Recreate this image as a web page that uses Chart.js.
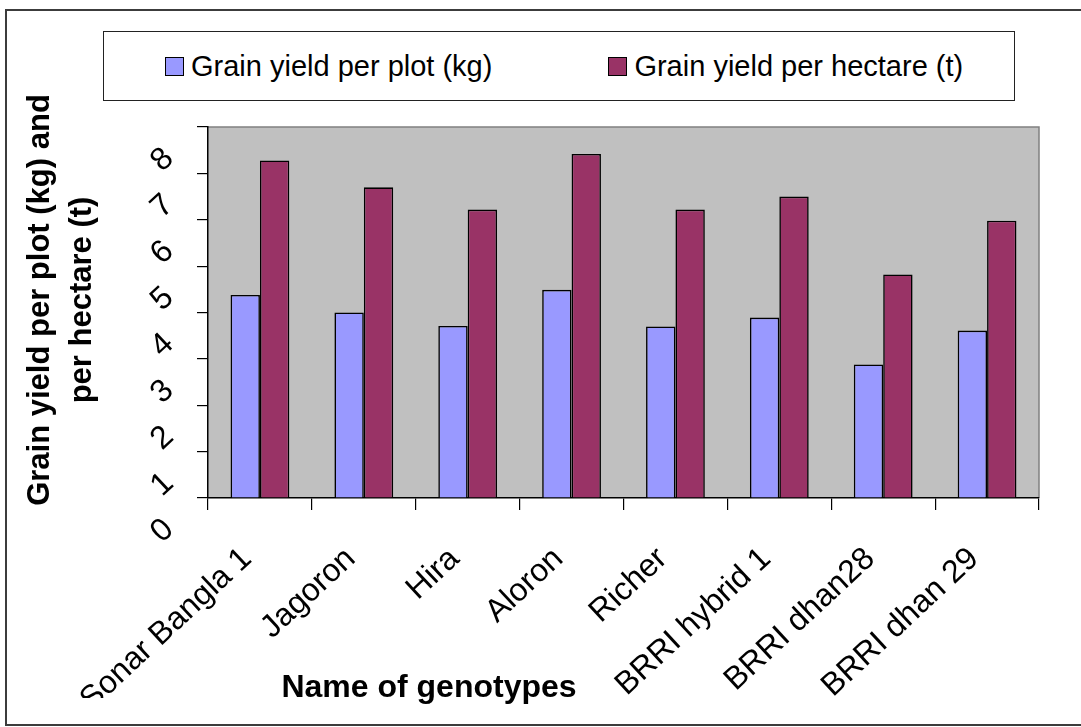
<!DOCTYPE html>
<html>
<head>
<meta charset="utf-8">
<title>Grain yield of genotypes</title>
<script src="https://cdn.jsdelivr.net/npm/chart.js@4.4.1/dist/chart.umd.min.js"></script>
<style>
  html, body { margin: 0; padding: 0; background: #fff; overflow: hidden; width: 1081px; height: 727px; }
  #frame { position: absolute; left: 5px; top: 9px; width: 1076px; height: 717px; border: 2px solid #3c3c3c; border-right: 0; box-sizing: border-box; }
  #chart { position: absolute; left: 0; top: 0; }
  #legend {
    position: absolute; left: 103px; top: 31px; width: 912px; height: 70px;
    box-sizing: border-box; border: 1px solid #222; background: #fff;
    display: flex; align-items: center; padding-left: 61px; gap: 116px;
    font-family: 'Liberation Sans', Arial, sans-serif; font-size: 29px; color: #000;
  }
  .item { display: flex; align-items: center; white-space: nowrap; line-height: 1; }
  .swatch { width: 19px; height: 19px; box-sizing: border-box; border: 1.5px solid #000; margin-right: 7px; }
</style>
</head>
<body>
<div id="frame"></div>
<canvas id="chart" width="1081" height="727"></canvas>
<div id="legend"></div>
<script>
// data
const genotypes = ['Sonar Bangla 1', 'Jagoron', 'Hira', 'Aloron', 'Richer', 'BRRI hybrid 1', 'BRRI dhan28', 'BRRI dhan 29'];
const yieldPerPlot = [4.38, 4.00, 3.71, 4.49, 3.70, 3.89, 2.88, 3.61];
const yieldPerHectare = [7.28, 6.70, 6.22, 7.42, 6.22, 6.50, 4.82, 5.98];
const seriesNames = ['Grain yield per plot (kg)', 'Grain yield per hectare (t)'];
const yTickLabels = ['0', '1', '2', '3', '4', '5', '6', '7', '8'];
const yTitle = ['Grain yield per plot (kg) and', 'per hectare (t)'];
const xTitle = 'Name of genotypes';

const FONT = "'Liberation Sans', Arial, sans-serif";
Chart.defaults.font.family = FONT;
Chart.defaults.color = '#000';

// grey plot area with its thin top/right frame
const plotBackground = {
  id: 'plotBackground',
  beforeDraw(chart) {
    const { ctx, chartArea: a } = chart;
    ctx.save();
    ctx.fillStyle = '#C0C0C0';
    ctx.fillRect(a.left, a.top, a.right - a.left, a.bottom - a.top);
    ctx.strokeStyle = '#808080';
    ctx.lineWidth = 1.5;
    ctx.beginPath();
    ctx.moveTo(a.left, a.top);
    ctx.lineTo(a.right, a.top);
    ctx.lineTo(a.right, a.bottom);
    ctx.stroke();
    ctx.restore();
  }
};

// axis titles sit off-centre in the original, so place them by hand
const axisTitles = {
  id: 'axisTitles',
  afterDraw(chart) {
    const ctx = chart.ctx;
    ctx.save();
    ctx.fillStyle = '#000';
    ctx.textAlign = 'center';
    ctx.textBaseline = 'alphabetic';
    ctx.font = 'bold 31px ' + FONT;
    ctx.translate(0, 300);
    ctx.rotate(-Math.PI / 2);
    ctx.fillText(yTitle[0], 0, 49);
    ctx.fillText(yTitle[1], 0, 91);
    ctx.restore();

    ctx.save();
    ctx.fillStyle = '#000';
    ctx.textAlign = 'center';
    ctx.textBaseline = 'alphabetic';
    ctx.font = 'bold 32px ' + FONT;
    ctx.fillText(xTitle, 429, 697);
    ctx.restore();
  }
};

// legend built as html from the chart's own legend items
const htmlLegend = {
  id: 'htmlLegend',
  afterUpdate(chart) {
    const box = document.getElementById('legend');
    box.innerHTML = '';
    const items = chart.options.plugins.legend.labels.generateLabels(chart);
    items.forEach(item => {
      const el = document.createElement('div');
      el.className = 'item';
      const sw = document.createElement('span');
      sw.className = 'swatch';
      sw.style.background = item.fillStyle;
      const txt = document.createElement('span');
      txt.textContent = item.text;
      el.appendChild(sw);
      el.appendChild(txt);
      box.appendChild(el);
    });
  }
};

const ctx = document.getElementById('chart');
new Chart(ctx, {
  type: 'bar',
  data: {
    labels: genotypes,
    datasets: [{
      label: seriesNames[0],
      data: yieldPerPlot,
      backgroundColor: '#9999FF',
      borderColor: '#000',
      borderWidth: 1.6
    },
    {
      label: seriesNames[1],
      data: yieldPerHectare,
      backgroundColor: '#993366',
      borderColor: '#000',
      borderWidth: 1.6
    }]
  },
  options: {
    responsive: false,
    animation: false,
    devicePixelRatio: 1,
    datasets: {
      bar: { categoryPercentage: 0.566, barPercentage: 1 }
    },
    layout: {
      autoPadding: false,
      padding: { left: 148, right: 42, top: 127, bottom: 29 }
    },
    plugins: {
      legend: { display: false },
      tooltip: { enabled: false },
      title: { display: false }
    },
    scales: {
      x: {
        grid: { drawOnChartArea: false, drawTicks: true, tickLength: 12, color: '#000', lineWidth: 1.2, offset: true },
        border: { display: true, color: '#000', width: 1.5 },
        ticks: {
          autoSkip: false,
          minRotation: 43,
          maxRotation: 43,
          padding: 30,
          labelOffset: -13,
          color: '#000',
          font: { size: 32 }
        },
        afterFit(scale) { scale.height = 200; }
      },
      y: {
        min: 0,
        max: 8,
        grid: { drawOnChartArea: false, drawTicks: true, tickLength: 11, color: '#000', lineWidth: 1.2 },
        border: { display: true, color: '#000', width: 1.5 },
        ticks: {
          stepSize: 1,
          minRotation: 43,
          maxRotation: 43,
          padding: 28,
          labelOffset: 27,
          color: '#000',
          font: { size: 32 },
          callback: (value, index) => yTickLabels[index]
        },
        afterFit(scale) { scale.width = 60; }
      }
    }
  },
  plugins: [plotBackground, axisTitles, htmlLegend]
});
</script>
</body>
</html>
